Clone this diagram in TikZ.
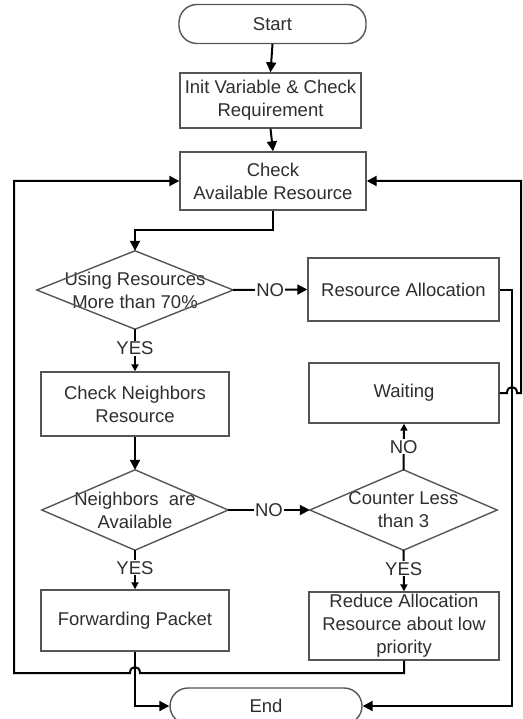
\documentclass[tikz,border=0pt]{standalone}
\usepackage{fontspec}
\setmainfont{Liberation Sans}
\usetikzlibrary{arrows.meta}
\definecolor{boxgray}{HTML}{555555}
\definecolor{txt}{HTML}{2E2E2E}
\begin{document}
\begin{tikzpicture}[x=1pt,y=-1pt,
  font=\fontsize{18.5}{23}\selectfont,
  box/.style={draw=boxgray, line width=1.4pt, rectangle, align=center, inner sep=0pt, text=txt},
  term/.style={box, rounded corners=18pt},
  dec/.style={rectangle, inner sep=0pt, align=center, text=txt},
  dline/.style={draw=boxgray, line width=1.4pt},
  conn/.style={line width=2pt, draw=black},
  arr/.style={conn, -{Triangle[length=10pt,width=10pt]}},
  sarr/.style={conn, -{Triangle[length=7pt,width=7pt]}},
  lbl/.style={fill=white, inner sep=1pt, text=txt}]
\useasboundingbox (0,0) rectangle (522,719);

% nodes
\node[term, minimum width=187pt, minimum height=39pt] (start) at (272.5,24) {Start};
\node[box, minimum width=181pt, minimum height=55pt] (init) at (270.5,100.5) {Init Variable \& Check\\Requirement};
\node[box, minimum width=186pt, minimum height=58pt] (check) at (273,181) {Check\\Available Resource};

\node[dec, minimum width=196pt, minimum height=78pt] (d1) at (135,290) {Using Resources\\More than 70\%};
\draw[dline] (d1.north) -- (d1.east) -- (d1.south) -- (d1.west) -- cycle;

\node[box, minimum width=191pt, minimum height=63pt] (ralloc) at (403.5,289.5) {Resource Allocation};
\node[box, minimum width=188pt, minimum height=64pt] (cn) at (135,404) {Check Neighbors\\Resource};

\node[dec, minimum width=186pt, minimum height=80pt] (d2) at (135,510) {Neighbors\ \ are\\Available};
\draw[dline] (d2.north) -- (d2.east) -- (d2.south) -- (d2.west) -- cycle;

\node[dec, minimum width=187pt, minimum height=80pt] (d3) at (403.5,510) {Counter Less\\than 3};
\draw[dline] (d3.north) -- (d3.east) -- (d3.south) -- (d3.west) -- cycle;

\node[box, minimum width=190pt, minimum height=60pt] (waiting) at (404,393) {Waiting};
\node[box, minimum width=188pt, minimum height=61pt] (fwd) at (135,620.5) {Forwarding Packet};
\node[box, minimum width=190pt, minimum height=68pt] (reduce) at (404,626) {Reduce Allocation\\Resource about low\\priority};
\node[term, minimum width=192pt, minimum height=36pt] (end) at (266,706) {End};

% helper coordinates
\coordinate (j1) at (135,230);
\coordinate (hopR) at (140,673);
\coordinate (hopL) at (130,673);
\coordinate (lb) at (14,673);
\coordinate (rr) at (512,500);
\coordinate (hw1) at (507,393);
\coordinate (hw2) at (517,393);
\coordinate (rtb) at (521,393);

% connectors
\draw[arr] (start.south) -- (init.north);
\draw[arr] (init.south) -- (check.north);
\draw[arr] (check.south) |- (j1) -- (d1.north);
\draw[arr] (d1.east) -- node[lbl]{NO} (ralloc.west);
\draw[sarr] (d1.south) -- node[lbl, pos=0.45]{YES} (cn.north);
\draw[arr] (cn.south) -- (d2.north);
\draw[arr] (d2.east) -- node[lbl]{NO} (d3.west);
\draw[sarr] (d3.north) -- node[lbl]{NO} (waiting.south);
\draw[sarr] (d3.south) -- node[lbl, pos=0.45]{YES} (reduce.north);
\draw[sarr] (d2.south) -- node[lbl, pos=0.45]{YES} (fwd.north);
\draw[arr] (fwd.south) |- (end.west);
\draw[arr] (reduce.south) |- (hopR) .. controls (140,665) and (130,665) .. (hopL) -- (lb) |- (check.west);
\draw[arr] (ralloc.east) -| (rr) |- (end.east);
\draw[arr] (waiting.east) -- (hw1) .. controls (507,385) and (517,385) .. (hw2) -- (rtb) |- (check.east);
\end{tikzpicture}
\end{document}
